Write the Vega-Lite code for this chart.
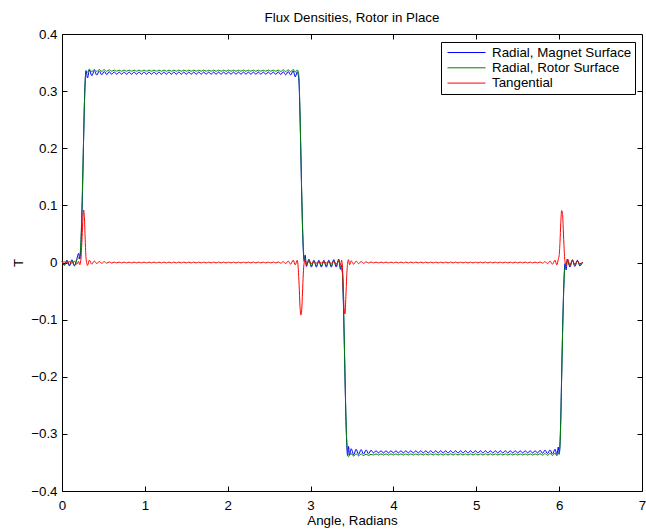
{
"$schema": "https://vega.github.io/schema/vega-lite/v6.json",
"width": 580, "height": 457,
"autosize": {"type": "none"},
"padding": {"left": 62, "top": 34, "right": 4, "bottom": 38},
"background": "white",
"config": {
  "font": "Liberation Sans",
  "view": {"stroke": "black", "strokeWidth": 1},
  "axis": {"labelFont": "Liberation Sans", "labelFontSize": 13.33, "labelColor": "black", "tickColor": "black", "titleFont": "Liberation Sans", "titleFontSize": 13.33, "titleFontWeight": "normal", "titleColor": "black", "grid": false, "domain": false, "tickSize": -5, "labelFlush": false, "labelOverlap": false}
},
"title": {"text": "Flux Densities, Rotor in Place", "fontSize": 13.33, "fontWeight": "normal", "color": "black", "font": "Liberation Sans", "anchor": "middle", "offset": 3},
"data": {"values": [
{"x":0,"m":0.002,"r":0.002,"t":0},
{"x":0.03,"m":-0.005,"r":-0.004,"t":0.001},
{"x":0.06,"m":0.004,"r":0.003,"t":-0.001},
{"x":0.09,"m":-0.006,"r":-0.004,"t":0.0015},
{"x":0.12,"m":0.005,"r":0.004,"t":-0.0015},
{"x":0.15,"m":-0.006,"r":-0.005,"t":0.002},
{"x":0.18,"m":0.007,"r":0.005,"t":-0.003},
{"x":0.2,"m":0.016,"r":0.008,"t":0.002},
{"x":0.215,"m":0.006,"r":0.012,"t":-0.004},
{"x":0.228,"m":0.03,"r":0.035,"t":0.005},
{"x":0.24,"m":0.08,"r":0.09,"t":0.035},
{"x":0.25,"m":0.14,"r":0.15,"t":0.07},
{"x":0.26,"m":0.21,"r":0.215,"t":0.092},
{"x":0.27,"m":0.275,"r":0.275,"t":0.08},
{"x":0.28,"m":0.32,"r":0.315,"t":0.04},
{"x":0.29,"m":0.336,"r":0.334,"t":0.008},
{"x":0.308,"m":0.323,"r":0.333,"t":-0.005},
{"x":0.33,"m":0.337,"r":0.3385,"t":0.004},
{"x":0.36,"m":0.327,"r":0.334,"t":-0.003},
{"x":0.39,"m":0.336,"r":0.338,"t":0.0025},
{"x":0.42,"m":0.328,"r":0.3345,"t":-0.002},
{"x":0.45,"m":0.3355,"r":0.3378,"t":0.002},
{"x":0.48,"m":0.3285,"r":0.3346,"t":-0.0015},
{"x":0.51,"m":0.3345,"r":0.3376,"t":0.0015},
{"x":0.54,"m":0.329,"r":0.3347,"t":-0.0012},
{"x":0.57,"m":0.334,"r":0.3373,"t":0.001},
{"x":0.6,"m":0.3295,"r":0.3348,"t":-0.001},
{"x":0.63,"m":0.3335,"r":0.3368,"t":0.0007},
{"x":0.66,"m":0.3295,"r":0.3348,"t":-0.0007},
{"x":0.69,"m":0.3335,"r":0.3368,"t":0.0007},
{"x":0.72,"m":0.3295,"r":0.3348,"t":-0.0007},
{"x":0.75,"m":0.3335,"r":0.3368,"t":0.0007},
{"x":0.78,"m":0.3295,"r":0.3348,"t":-0.0007},
{"x":0.81,"m":0.3335,"r":0.3368,"t":0.0007},
{"x":0.84,"m":0.3295,"r":0.3348,"t":-0.0007},
{"x":0.87,"m":0.3335,"r":0.3368,"t":0.0007},
{"x":0.9,"m":0.3295,"r":0.3348,"t":-0.0007},
{"x":0.93,"m":0.3335,"r":0.3368,"t":0.0007},
{"x":0.96,"m":0.3295,"r":0.3348,"t":-0.0007},
{"x":0.99,"m":0.3335,"r":0.3368,"t":0.0007},
{"x":1.02,"m":0.3295,"r":0.3348,"t":-0.0007},
{"x":1.05,"m":0.3335,"r":0.3368,"t":0.0007},
{"x":1.08,"m":0.3295,"r":0.3348,"t":-0.0007},
{"x":1.11,"m":0.3335,"r":0.3368,"t":0.0007},
{"x":1.14,"m":0.3295,"r":0.3348,"t":-0.0007},
{"x":1.17,"m":0.3335,"r":0.3368,"t":0.0007},
{"x":1.2,"m":0.3295,"r":0.3348,"t":-0.0007},
{"x":1.23,"m":0.3335,"r":0.3368,"t":0.0007},
{"x":1.26,"m":0.3295,"r":0.3348,"t":-0.0007},
{"x":1.29,"m":0.3335,"r":0.3368,"t":0.0007},
{"x":1.32,"m":0.3295,"r":0.3348,"t":-0.0007},
{"x":1.35,"m":0.3335,"r":0.3368,"t":0.0007},
{"x":1.38,"m":0.3295,"r":0.3348,"t":-0.0007},
{"x":1.41,"m":0.3335,"r":0.3368,"t":0.0007},
{"x":1.44,"m":0.3295,"r":0.3348,"t":-0.0007},
{"x":1.47,"m":0.3335,"r":0.3368,"t":0.0007},
{"x":1.5,"m":0.3295,"r":0.3348,"t":-0.0007},
{"x":1.53,"m":0.3335,"r":0.3368,"t":0.0007},
{"x":1.56,"m":0.3295,"r":0.3348,"t":-0.0007},
{"x":1.59,"m":0.3335,"r":0.3368,"t":0.0007},
{"x":1.62,"m":0.3295,"r":0.3348,"t":-0.0007},
{"x":1.65,"m":0.3335,"r":0.3368,"t":0.0007},
{"x":1.68,"m":0.3295,"r":0.3348,"t":-0.0007},
{"x":1.71,"m":0.3335,"r":0.3368,"t":0.0007},
{"x":1.74,"m":0.3295,"r":0.3348,"t":-0.0007},
{"x":1.77,"m":0.3335,"r":0.3368,"t":0.0007},
{"x":1.8,"m":0.3295,"r":0.3348,"t":-0.0007},
{"x":1.83,"m":0.3335,"r":0.3368,"t":0.0007},
{"x":1.86,"m":0.3295,"r":0.3348,"t":-0.0007},
{"x":1.89,"m":0.3335,"r":0.3368,"t":0.0007},
{"x":1.92,"m":0.3295,"r":0.3348,"t":-0.0007},
{"x":1.95,"m":0.3335,"r":0.3368,"t":0.0007},
{"x":1.98,"m":0.3295,"r":0.3348,"t":-0.0007},
{"x":2.01,"m":0.3335,"r":0.3368,"t":0.0007},
{"x":2.04,"m":0.3295,"r":0.3348,"t":-0.0007},
{"x":2.07,"m":0.3335,"r":0.3368,"t":0.0007},
{"x":2.1,"m":0.3295,"r":0.3348,"t":-0.0007},
{"x":2.13,"m":0.3335,"r":0.3368,"t":0.0007},
{"x":2.16,"m":0.3295,"r":0.3348,"t":-0.0007},
{"x":2.19,"m":0.3335,"r":0.3368,"t":0.0007},
{"x":2.22,"m":0.3295,"r":0.3348,"t":-0.0007},
{"x":2.25,"m":0.3335,"r":0.3368,"t":0.0007},
{"x":2.28,"m":0.3295,"r":0.3348,"t":-0.0007},
{"x":2.31,"m":0.3335,"r":0.3368,"t":0.0007},
{"x":2.34,"m":0.3295,"r":0.3348,"t":-0.0007},
{"x":2.37,"m":0.3335,"r":0.3368,"t":0.0007},
{"x":2.4,"m":0.3295,"r":0.3348,"t":-0.0007},
{"x":2.43,"m":0.3335,"r":0.3368,"t":0.0007},
{"x":2.46,"m":0.3295,"r":0.3348,"t":-0.0007},
{"x":2.49,"m":0.3335,"r":0.3368,"t":0.0007},
{"x":2.52,"m":0.3295,"r":0.3348,"t":-0.0007},
{"x":2.55,"m":0.3335,"r":0.3368,"t":0.0007},
{"x":2.58,"m":0.3293,"r":0.3347,"t":-0.0008},
{"x":2.61,"m":0.3338,"r":0.337,"t":0.001},
{"x":2.64,"m":0.329,"r":0.3345,"t":-0.0012},
{"x":2.67,"m":0.334,"r":0.3372,"t":0.0015},
{"x":2.7,"m":0.3285,"r":0.3342,"t":-0.002},
{"x":2.73,"m":0.3345,"r":0.3375,"t":0.0025},
{"x":2.76,"m":0.328,"r":0.334,"t":-0.003},
{"x":2.79,"m":0.3355,"r":0.338,"t":0.004},
{"x":2.815,"m":0.325,"r":0.3335,"t":-0.004},
{"x":2.84,"m":0.334,"r":0.337,"t":0.004},
{"x":2.852,"m":0.327,"r":0.334,"t":-0.012},
{"x":2.862,"m":0.31,"r":0.318,"t":-0.04},
{"x":2.872,"m":0.26,"r":0.265,"t":-0.075},
{"x":2.882,"m":0.195,"r":0.2,"t":-0.092},
{"x":2.892,"m":0.125,"r":0.13,"t":-0.085},
{"x":2.902,"m":0.065,"r":0.07,"t":-0.055},
{"x":2.912,"m":0.022,"r":0.028,"t":-0.02},
{"x":2.922,"m":0.002,"r":0.008,"t":-0.001},
{"x":2.935,"m":0.013,"r":0.006,"t":0.005},
{"x":2.95,"m":-0.007,"r":-0.005,"t":-0.003},
{"x":2.98,"m":0.006,"r":0.004,"t":0.003},
{"x":3.01,"m":-0.008,"r":-0.006,"t":-0.002},
{"x":3.04,"m":0.004,"r":0.003,"t":0.0015},
{"x":3.07,"m":-0.008,"r":-0.006,"t":-0.0012},
{"x":3.1,"m":0.004,"r":0.002,"t":0.001},
{"x":3.13,"m":-0.008,"r":-0.006,"t":-0.001},
{"x":3.16,"m":0.004,"r":0.002,"t":0.001},
{"x":3.19,"m":-0.008,"r":-0.006,"t":-0.001},
{"x":3.22,"m":0.004,"r":0.003,"t":0.0012},
{"x":3.25,"m":-0.008,"r":-0.006,"t":-0.0015},
{"x":3.28,"m":0.005,"r":0.003,"t":0.002},
{"x":3.31,"m":-0.008,"r":-0.006,"t":-0.0025},
{"x":3.34,"m":0.006,"r":0.004,"t":0.003},
{"x":3.36,"m":-0.012,"r":-0.008,"t":-0.004},
{"x":3.375,"m":-0.004,"r":-0.012,"t":0.004},
{"x":3.386,"m":-0.022,"r":-0.02,"t":-0.012},
{"x":3.396,"m":-0.07,"r":-0.065,"t":-0.05},
{"x":3.406,"m":-0.135,"r":-0.13,"t":-0.083},
{"x":3.416,"m":-0.205,"r":-0.2,"t":-0.09},
{"x":3.426,"m":-0.27,"r":-0.265,"t":-0.06},
{"x":3.436,"m":-0.315,"r":-0.31,"t":-0.025},
{"x":3.446,"m":-0.338,"r":-0.332,"t":-0.002},
{"x":3.458,"m":-0.322,"r":-0.34,"t":0.005},
{"x":3.47,"m":-0.337,"r":-0.338,"t":-0.004},
{"x":3.49,"m":-0.326,"r":-0.3345,"t":0.003},
{"x":3.52,"m":-0.3365,"r":-0.339,"t":-0.003},
{"x":3.55,"m":-0.327,"r":-0.335,"t":0.0025},
{"x":3.58,"m":-0.336,"r":-0.3385,"t":-0.002},
{"x":3.61,"m":-0.3275,"r":-0.3352,"t":0.0018},
{"x":3.64,"m":-0.3355,"r":-0.338,"t":-0.0015},
{"x":3.67,"m":-0.328,"r":-0.3355,"t":0.0012},
{"x":3.7,"m":-0.335,"r":-0.3378,"t":-0.001},
{"x":3.73,"m":-0.3285,"r":-0.3358,"t":0.001},
{"x":3.76,"m":-0.3335,"r":-0.337,"t":-0.0007},
{"x":3.79,"m":-0.3295,"r":-0.335,"t":0.0007},
{"x":3.82,"m":-0.3335,"r":-0.337,"t":-0.0007},
{"x":3.85,"m":-0.3295,"r":-0.335,"t":0.0007},
{"x":3.88,"m":-0.3335,"r":-0.337,"t":-0.0007},
{"x":3.91,"m":-0.3295,"r":-0.335,"t":0.0007},
{"x":3.94,"m":-0.3335,"r":-0.337,"t":-0.0007},
{"x":3.97,"m":-0.3295,"r":-0.335,"t":0.0007},
{"x":4.0,"m":-0.3335,"r":-0.337,"t":-0.0007},
{"x":4.03,"m":-0.3295,"r":-0.335,"t":0.0007},
{"x":4.06,"m":-0.3335,"r":-0.337,"t":-0.0007},
{"x":4.09,"m":-0.3295,"r":-0.335,"t":0.0007},
{"x":4.12,"m":-0.3335,"r":-0.337,"t":-0.0007},
{"x":4.15,"m":-0.3295,"r":-0.335,"t":0.0007},
{"x":4.18,"m":-0.3335,"r":-0.337,"t":-0.0007},
{"x":4.21,"m":-0.3295,"r":-0.335,"t":0.0007},
{"x":4.24,"m":-0.3335,"r":-0.337,"t":-0.0007},
{"x":4.27,"m":-0.3295,"r":-0.335,"t":0.0007},
{"x":4.3,"m":-0.3335,"r":-0.337,"t":-0.0007},
{"x":4.33,"m":-0.3295,"r":-0.335,"t":0.0007},
{"x":4.36,"m":-0.3335,"r":-0.337,"t":-0.0007},
{"x":4.39,"m":-0.3295,"r":-0.335,"t":0.0007},
{"x":4.42,"m":-0.3335,"r":-0.337,"t":-0.0007},
{"x":4.45,"m":-0.3295,"r":-0.335,"t":0.0007},
{"x":4.48,"m":-0.3335,"r":-0.337,"t":-0.0007},
{"x":4.51,"m":-0.3295,"r":-0.335,"t":0.0007},
{"x":4.54,"m":-0.3335,"r":-0.337,"t":-0.0007},
{"x":4.57,"m":-0.3295,"r":-0.335,"t":0.0007},
{"x":4.6,"m":-0.3335,"r":-0.337,"t":-0.0007},
{"x":4.63,"m":-0.3295,"r":-0.335,"t":0.0007},
{"x":4.66,"m":-0.3335,"r":-0.337,"t":-0.0007},
{"x":4.69,"m":-0.3295,"r":-0.335,"t":0.0007},
{"x":4.72,"m":-0.3335,"r":-0.337,"t":-0.0007},
{"x":4.75,"m":-0.3295,"r":-0.335,"t":0.0007},
{"x":4.78,"m":-0.3335,"r":-0.337,"t":-0.0007},
{"x":4.81,"m":-0.3295,"r":-0.335,"t":0.0007},
{"x":4.84,"m":-0.3335,"r":-0.337,"t":-0.0007},
{"x":4.87,"m":-0.3295,"r":-0.335,"t":0.0007},
{"x":4.9,"m":-0.3335,"r":-0.337,"t":-0.0007},
{"x":4.93,"m":-0.3295,"r":-0.335,"t":0.0007},
{"x":4.96,"m":-0.3335,"r":-0.337,"t":-0.0007},
{"x":4.99,"m":-0.3295,"r":-0.335,"t":0.0007},
{"x":5.02,"m":-0.3335,"r":-0.337,"t":-0.0007},
{"x":5.05,"m":-0.3295,"r":-0.335,"t":0.0007},
{"x":5.08,"m":-0.3335,"r":-0.337,"t":-0.0007},
{"x":5.11,"m":-0.3295,"r":-0.335,"t":0.0007},
{"x":5.14,"m":-0.3335,"r":-0.337,"t":-0.0007},
{"x":5.17,"m":-0.3295,"r":-0.335,"t":0.0007},
{"x":5.2,"m":-0.3335,"r":-0.337,"t":-0.0007},
{"x":5.23,"m":-0.3295,"r":-0.335,"t":0.0007},
{"x":5.26,"m":-0.3335,"r":-0.337,"t":-0.0007},
{"x":5.29,"m":-0.3295,"r":-0.335,"t":0.0007},
{"x":5.32,"m":-0.3335,"r":-0.337,"t":-0.0007},
{"x":5.35,"m":-0.3295,"r":-0.335,"t":0.0007},
{"x":5.38,"m":-0.3335,"r":-0.337,"t":-0.0007},
{"x":5.41,"m":-0.3295,"r":-0.335,"t":0.0007},
{"x":5.44,"m":-0.3335,"r":-0.337,"t":-0.0007},
{"x":5.47,"m":-0.3295,"r":-0.335,"t":0.0007},
{"x":5.5,"m":-0.3335,"r":-0.337,"t":-0.0007},
{"x":5.53,"m":-0.3295,"r":-0.335,"t":0.0007},
{"x":5.56,"m":-0.3335,"r":-0.337,"t":-0.0007},
{"x":5.59,"m":-0.3295,"r":-0.335,"t":0.0007},
{"x":5.62,"m":-0.3335,"r":-0.337,"t":-0.0007},
{"x":5.65,"m":-0.3295,"r":-0.335,"t":0.0007},
{"x":5.68,"m":-0.3335,"r":-0.337,"t":-0.0007},
{"x":5.71,"m":-0.3295,"r":-0.335,"t":0.0007},
{"x":5.74,"m":-0.3335,"r":-0.337,"t":-0.0007},
{"x":5.77,"m":-0.3288,"r":-0.3347,"t":0.001},
{"x":5.8,"m":-0.334,"r":-0.3373,"t":-0.0012},
{"x":5.83,"m":-0.3285,"r":-0.3345,"t":0.0015},
{"x":5.86,"m":-0.3345,"r":-0.3376,"t":-0.002},
{"x":5.89,"m":-0.328,"r":-0.334,"t":0.0025},
{"x":5.92,"m":-0.3355,"r":-0.338,"t":-0.003},
{"x":5.95,"m":-0.327,"r":-0.3338,"t":0.004},
{"x":5.972,"m":-0.336,"r":-0.3385,"t":-0.004},
{"x":5.99,"m":-0.323,"r":-0.333,"t":0.006},
{"x":6.0,"m":-0.334,"r":-0.336,"t":0.012},
{"x":6.01,"m":-0.318,"r":-0.322,"t":0.035},
{"x":6.02,"m":-0.27,"r":-0.275,"t":0.07},
{"x":6.03,"m":-0.2,"r":-0.205,"t":0.091},
{"x":6.04,"m":-0.13,"r":-0.135,"t":0.086},
{"x":6.05,"m":-0.07,"r":-0.075,"t":0.058},
{"x":6.06,"m":-0.025,"r":-0.03,"t":0.024},
{"x":6.07,"m":-0.002,"r":-0.008,"t":0.002},
{"x":6.085,"m":-0.013,"r":-0.004,"t":-0.005},
{"x":6.1,"m":0.006,"r":0.004,"t":0.006},
{"x":6.13,"m":-0.008,"r":-0.006,"t":-0.004},
{"x":6.16,"m":0.005,"r":0.003,"t":0.003},
{"x":6.19,"m":-0.007,"r":-0.005,"t":-0.003},
{"x":6.22,"m":0.004,"r":0.003,"t":0.002},
{"x":6.25,"m":-0.006,"r":-0.004,"t":-0.002},
{"x":6.283,"m":0.001,"r":0,"t":0}
]},
"transform": [{"fold": ["m", "r", "t"], "as": ["k", "v"]}],
"layer": [
  {
    "mark": {"type": "line", "strokeWidth": 1, "interpolate": "monotone"},
    "encoding": {
      "x": {"field": "x", "type": "quantitative", "scale": {"domain": [0, 7], "nice": false, "zero": false},
            "axis": {"orient": "bottom", "values": [0, 1, 2, 3, 4, 5, 6, 7], "format": "d", "labelPadding": 12, "title": "Angle, Radians", "titlePadding": 2}},
      "y": {"field": "v", "type": "quantitative", "scale": {"domain": [-0.4, 0.4], "nice": false, "zero": false},
            "axis": {"orient": "left", "values": [-0.4, -0.3, -0.2, -0.1, 0, 0.1, 0.2, 0.3, 0.4], "format": ".1~f", "labelPadding": 10, "title": "T", "titlePadding": 5}},
      "color": {"field": "k", "type": "nominal",
                "scale": {"domain": ["m", "r", "t"], "range": ["#0000ff", "#008000", "#ff0000"]},
                "legend": {"orient": "none", "legendX": 379, "legendY": 8, "title": null, "direction": "vertical",
                           "symbolType": "stroke", "symbolSize": 1444, "symbolStrokeWidth": 1, "clipHeight": 15,
                           "rowPadding": 0.3, "padding": 3, "symbolOffset": 3, "labelOffset": 6,
                           "labelFont": "Liberation Sans", "labelFontSize": 13.33, "labelColor": "black",
                           "strokeColor": "black", "fillColor": "white",
                           "labelExpr": "datum.value == 'm' ? 'Radial, Magnet Surface\u00a0' : datum.value == 'r' ? 'Radial, Rotor Surface' : 'Tangential'"}}
    }
  },
  {
    "mark": {"type": "line", "opacity": 0},
    "encoding": {
      "x": {"field": "x", "type": "quantitative", "axis": {"orient": "top", "values": [1, 2, 3, 4, 5, 6], "labels": false, "title": null}},
      "y": {"field": "v", "type": "quantitative", "axis": {"orient": "right", "values": [-0.3, -0.2, -0.1, 0, 0.1, 0.2, 0.3], "labels": false, "title": null}}
    }
  }
],
"resolve": {"axis": {"x": "independent", "y": "independent"}}
}
